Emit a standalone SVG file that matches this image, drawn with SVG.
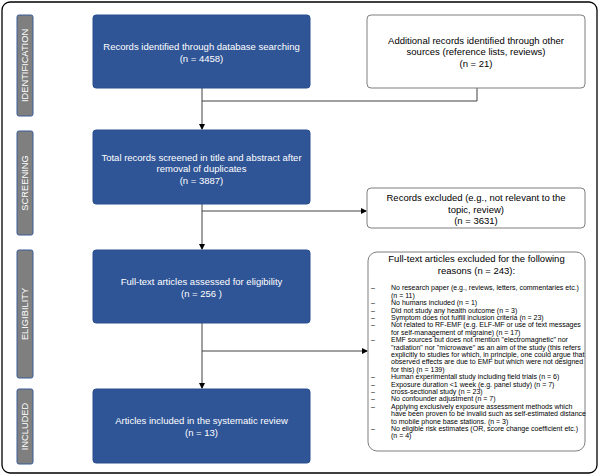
<svg xmlns="http://www.w3.org/2000/svg" width="600" height="476" viewBox="0 0 600 476">
<defs>
<marker id="ah" markerWidth="6" markerHeight="6" refX="5" refY="3" orient="auto" markerUnits="userSpaceOnUse">
<path d="M0,0 L6,3 L0,6 Z" fill="#000"/>
</marker>
<style>
.blue{fill:#2F5597;stroke:#2B4F8E;stroke-width:1}
.wbox{fill:#fff;stroke:#7F7F7F;stroke-width:1}
.side{fill:#7F7F7F;stroke:#3A5C99;stroke-width:1}
.wt{font-family:"Liberation Sans",Arial,sans-serif;font-size:9.5px;fill:#fff;text-anchor:middle}
.bt{font-family:"Liberation Sans",Arial,sans-serif;font-size:9.5px;fill:#000;text-anchor:middle}
.st{font-family:"Liberation Sans",Arial,sans-serif;font-size:9.3px;fill:#fff;text-anchor:middle}
.lt{font-family:"Liberation Sans",Arial,sans-serif;font-size:7px;fill:#000}
.conn{fill:none;stroke:#404040;stroke-width:1}
</style>
</defs>
<rect x="2" y="2" width="595" height="471" rx="8" fill="#fff" stroke="#000" stroke-width="1.3"/>

<g id="side-identification"><rect class="side" x="17" y="15" width="16" height="101" rx="2"/><text class="st" transform="translate(28.3,65.5) rotate(-90)">IDENTIFICATION</text></g>
<g id="side-screening"><rect class="side" x="17" y="131" width="16" height="104" rx="2"/><text class="st" transform="translate(28.3,183) rotate(-90)">SCREENING</text></g>
<g id="side-eligibility"><rect class="side" x="17" y="250" width="16" height="128" rx="2"/><text class="st" transform="translate(28.3,314) rotate(-90)">ELIGIBILITY</text></g>
<g id="side-included"><rect class="side" x="17" y="389" width="16" height="75" rx="2"/><text class="st" transform="translate(28.3,426.5) rotate(-90)">INCLUDED</text></g>

<g id="connectors">
<path class="conn" d="M477,88 V101 H202"/>
<path class="conn" d="M202,88 V129" marker-end="url(#ah)"/>
<path class="conn" d="M202,204 V249" marker-end="url(#ah)"/>
<path class="conn" d="M202,211 H366" marker-end="url(#ah)"/>
<path class="conn" d="M202,323 V388" marker-end="url(#ah)"/>
<path class="conn" d="M202,351 H367" marker-end="url(#ah)"/>
</g>

<g id="n-identified"><rect class="blue" x="93" y="15" width="217" height="73" rx="3"/>
<text class="wt" x="201.5" y="49.5">Records identified through database searching</text>
<text class="wt" x="201.5" y="61.5">(n = 4458)</text></g>

<g id="n-additional"><rect class="wbox" x="367" y="15" width="218" height="73" rx="4"/>
<text class="bt" x="476" y="43.5">Additional records identified through other</text>
<text class="bt" x="476" y="55">sources (reference lists, reviews)</text>
<text class="bt" x="476" y="66.5">(n = 21)</text></g>

<g id="n-screened"><rect class="blue" x="93" y="130" width="217" height="74" rx="3"/>
<text class="wt" x="201.5" y="160.5">Total records screened in title and abstract after</text>
<text class="wt" x="201.5" y="172">removal of duplicates</text>
<text class="wt" x="201.5" y="183.5">(n = 3887)</text></g>

<g id="n-excluded"><rect class="wbox" x="367" y="188" width="218" height="40" rx="4"/>
<text class="bt" x="476" y="201">Records excluded (e.g., not relevant to the</text>
<text class="bt" x="476" y="212.5">topic, review)</text>
<text class="bt" x="476" y="224">(n = 3631)</text></g>

<g id="n-fulltext"><rect class="blue" x="93" y="250" width="217" height="73" rx="3"/>
<text class="wt" x="201.5" y="284.5">Full-text articles assessed for eligibility</text>
<text class="wt" x="201.5" y="296.5">(n = 256 )</text></g>

<g id="n-fulltext-excluded"><rect class="wbox" x="368" y="252" width="217" height="199" rx="9"/>
<text class="bt" x="476.5" y="262">Full-text articles excluded for the following</text>
<text class="bt" x="476.5" y="273.5">reasons (n = 243):</text>
<g class="lt">
<text x="371" y="290.3">–</text><text x="391" y="290.3">No research paper (e.g., reviews, letters, commentaries etc.)</text>
<text x="391" y="297.7">(n = 11)</text>
<text x="371" y="305.1">–</text><text x="391" y="305.1">No humans included (n = 1)</text>
<text x="371" y="312.5">–</text><text x="391" y="312.5">Did not study any health outcome (n = 3)</text>
<text x="371" y="319.9">–</text><text x="391" y="319.9">Symptom does not fulfill inclusion criteria (n = 23)</text>
<text x="371" y="327.3">–</text><text x="391" y="327.3">Not related to RF-EMF (e.g. ELF-MF or use of text messages</text>
<text x="391" y="334.7">for self-management of migraine) (n = 17)</text>
<text x="371" y="342.1">–</text><text x="391" y="342.1">EMF sources but does not mention "electromagnetic" nor</text>
<text x="391" y="349.5">"radiation" nor "microwave" as an aim of the study (this refers</text>
<text x="391" y="356.9">explicitly to studies for which, in principle, one could argue that</text>
<text x="391" y="364.3">observed effects are  due to EMF but which were not designed</text>
<text x="391" y="371.7">for this) (n = 139)</text>
<text x="371" y="379.1">–</text><text x="391" y="379.1">Human experimentall study including field trials (n = 6)</text>
<text x="371" y="386.5">–</text><text x="391" y="386.5">Exposure duration &lt;1 week (e.g. panel study) (n = 7)</text>
<text x="371" y="393.9">–</text><text x="391" y="393.9">cross-sectional study (n = 23)</text>
<text x="371" y="401.3">–</text><text x="391" y="401.3">No confounder adjustment (n = 7)</text>
<text x="371" y="408.7">–</text><text x="391" y="408.7">Applying exclusively exposure assessment methods which</text>
<text x="391" y="416.1">have been proven to be invalid such as self-estimated distance</text>
<text x="391" y="423.5">to mobile phone base stations. (n = 3)</text>
<text x="371" y="430.9">–</text><text x="391" y="430.9">No eligible risk estimates (OR, score change coefficient etc.)</text>
<text x="391" y="438.3">(n = 4)</text>
</g></g>

<g id="n-included"><rect class="blue" x="93" y="389" width="217" height="74" rx="3"/>
<text class="wt" x="201.5" y="423.5">Articles included in the systematic review</text>
<text class="wt" x="201.5" y="435.5">(n = 13)</text></g>
</svg>
